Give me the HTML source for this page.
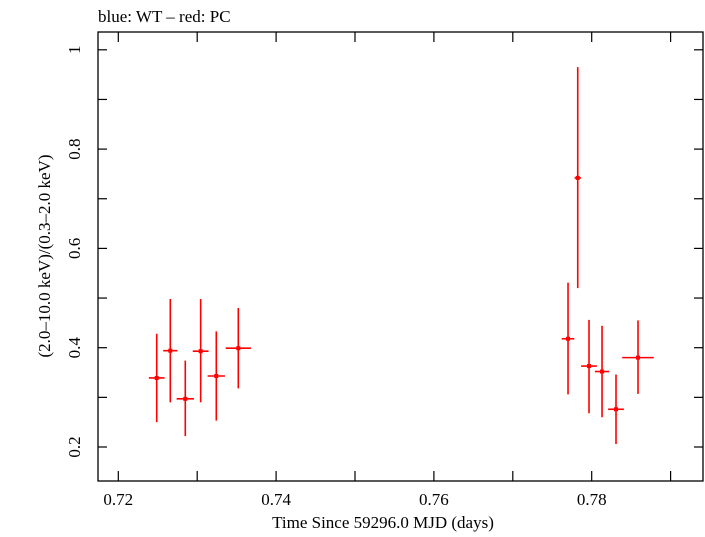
<!DOCTYPE html>
<html><head><meta charset="utf-8"><style>
body{margin:0;background:#fff;}
svg text{font-family:"Liberation Serif",serif;fill:#000;}
</style></head><body>
<svg id="chart" width="705" height="532" xmlns="http://www.w3.org/2000/svg">
<text x="98" y="22" font-size="17">blue: WT – red: PC</text>
<rect x="98" y="32" width="605" height="449" fill="none" stroke="#000" stroke-width="1.3"/>
<g id="axes"></g>
<g id="marks"></g>
<text x="383" y="528" font-size="17" text-anchor="middle">Time Since 59296.0 MJD (days)</text>
<text transform="translate(50,256) rotate(-90)" font-size="17" text-anchor="middle">(2.0–10.0 keV)/(0.3–2.0 keV)</text>
</svg>
<script>
const times=[0.72487,0.72659,0.72849,0.73044,0.73242,0.73521,0.77700,0.77823,0.77966,0.78131,0.78308,0.78587];
const timeErr=[0.0010,0.0009,0.0011,0.0010,0.0011,0.0016,0.0008,0.0004,0.0010,0.0009,0.0010,0.0020];
const ratios=[0.339,0.394,0.297,0.393,0.343,0.399,0.418,0.742,0.363,0.352,0.276,0.380];
const ratioLo=[0.250,0.290,0.222,0.290,0.253,0.318,0.306,0.520,0.268,0.260,0.206,0.307];
const ratioHi=[0.428,0.498,0.374,0.498,0.433,0.480,0.531,0.965,0.456,0.444,0.346,0.455];
const xTicks=[0.72,0.73,0.74,0.75,0.76,0.77,0.78,0.79];
const xLabels=["0.72","","0.74","","0.76","","0.78",""];
const yTicks=[0.2,0.3,0.4,0.5,0.6,0.7,0.8,0.9,1.0];
const yLabels=["0.2","","0.4","","0.6","","0.8","","1"];
const X=v=>118.3+(v-0.72)*7890;
const Y=v=>447-(v-0.2)*496.5;
const NS="http://www.w3.org/2000/svg";
function mk(tag,attrs,parent){const e=document.createElementNS(NS,tag);for(const k in attrs)e.setAttribute(k,attrs[k]);parent.appendChild(e);return e;}
const axes=document.getElementById('axes'),marks=document.getElementById('marks');
xTicks.forEach((t,i)=>{const x=X(t);
 let a=mk('line',{x1:x,x2:x,y1:481,y2:471,stroke:'#000','stroke-width':1.2},axes);
 
 let b=mk('line',{x1:x,x2:x,y1:32,y2:42,stroke:'#000','stroke-width':1.2},axes);
 
 if(xLabels[i]){const tx=mk('text',{x:x,y:505,'font-size':17,'text-anchor':'middle'},axes);tx.textContent=xLabels[i];
 }
});
yTicks.forEach((t,i)=>{const y=Y(t);
 let a=mk('line',{x1:98,x2:107,y1:y,y2:y,stroke:'#000','stroke-width':1.2},axes);
 
 let b=mk('line',{x1:694,x2:703,y1:y,y2:y,stroke:'#000','stroke-width':1.2},axes);
 
 if(yLabels[i]){const tx=mk('text',{transform:`translate(80,${y}) rotate(-90)`,'font-size':17,'text-anchor':'middle'},axes);tx.textContent=yLabels[i];
 }
});
times.forEach((t,i)=>{const g=mk('g',{stroke:'#f00','stroke-width':1.6},marks);
 
 
 const x=X(t),y=Y(ratios[i]);
 mk('line',{x1:X(t-timeErr[i]),x2:X(t+timeErr[i]),y1:y,y2:y},g);
 mk('line',{x1:x,x2:x,y1:Y(ratioLo[i]),y2:Y(ratioHi[i])},g);
 mk('rect',{x:x-2,y:y-2,width:4,height:4,fill:'#f00',stroke:'none'},g);
});
</script>
</body></html>
